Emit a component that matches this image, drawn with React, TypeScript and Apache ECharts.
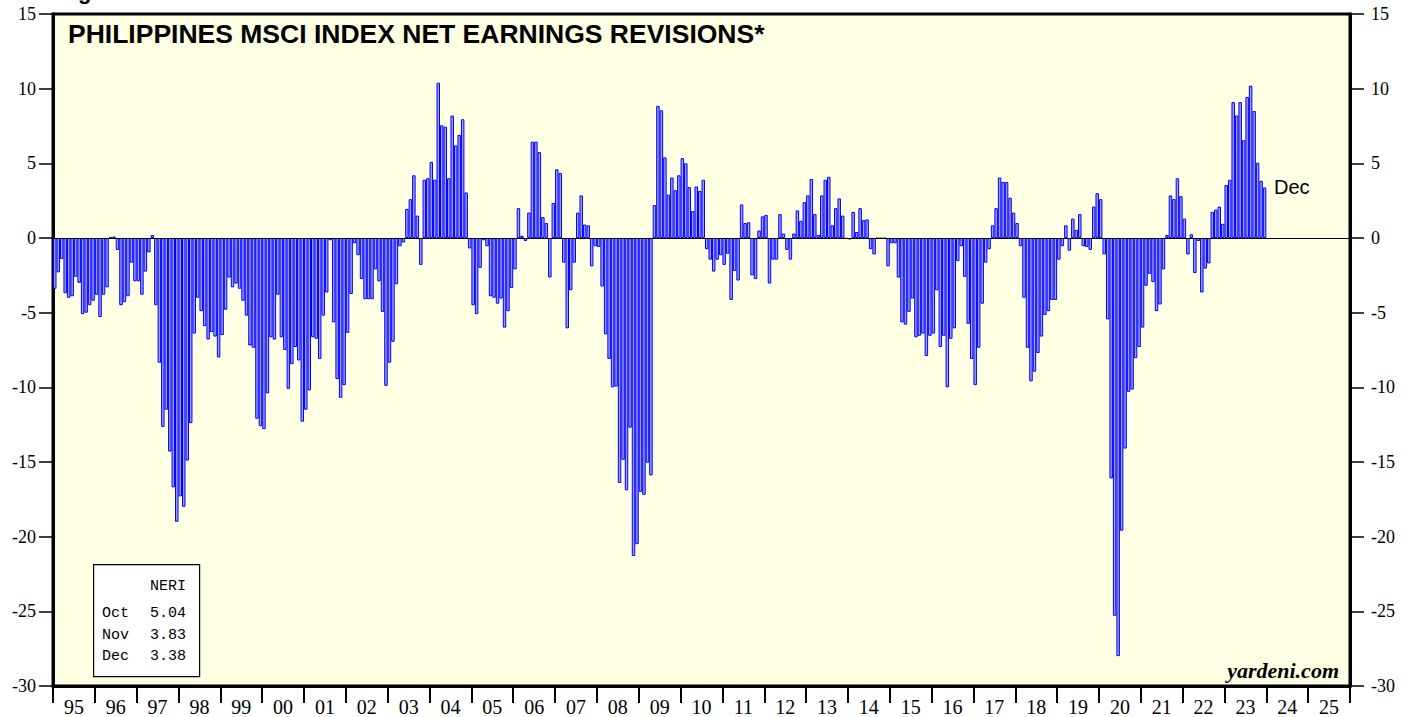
import React, { useEffect, useRef } from "react";
import * as echarts from "echarts";

// Monthly NERI values (% net earnings revisions), Jan..Dec of each year
const v1995 = [-3.4, -2.3, -1.4, -3.7, -4.0, -3.9, -2.6, -3.0, -5.1, -5.0, -4.5, -4.2];
const v1996 = [-3.8, -5.3, -3.8, -3.3, 0.05, 0.1, -0.8, -4.5, -4.3, -3.9, -1.65, -2.9];
const v1997 = [-2.9, -3.8, -2.25, -0.96, 0.2, -4.5, -8.35, -12.65, -11.5, -14.3, -16.7, -19.0];
const v1998 = [-17.3, -18.0, -14.9, -12.4, -6.4, -4.0, -4.9, -5.9, -6.8, -6.3, -6.6, -8.0];
const v1999 = [-6.5, -4.8, -2.65, -3.3, -3.05, -3.4, -4.2, -5.2, -7.2, -7.35, -12.1, -12.6];
const v2000 = [-12.8, -10.4, -6.65, -6.8, -3.8, -6.65, -7.5, -10.1, -8.45, -7.3, -8.2, -12.3];
const v2001 = [-11.5, -10.2, -6.65, -6.75, -8.1, -5.2, -3.65, -0.15, -5.65, -9.45, -10.7, -9.85];
const v2002 = [-6.35, -3.75, -0.35, -1.15, -2.75, -4.1, -4.1, -4.1, -2.1, -2.9, -4.95, -9.9];
const v2003 = [-8.35, -6.95, -3.1, -0.55, -0.3, 1.95, 2.6, 4.2, 1.5, -1.8, 3.9, 4.0];
const v2004 = [5.1, 3.9, 10.4, 7.55, 7.45, 4.0, 8.2, 6.2, 6.9, 7.95, 3.05, -0.7];
const v2005 = [-4.5, -5.1, -2.0, -0.15, -0.55, -3.9, -4.0, -4.4, -4.05, -6.0, -4.9, -3.35];
const v2006 = [-2.1, 2.0, 0.15, -0.2, 1.7, 6.45, 6.45, 5.75, 1.4, 1.0, -2.65, 2.35];
const v2007 = [4.6, 4.35, -1.65, -6.05, -3.5, -1.65, 1.7, 2.85, 0.9, 0.85, -1.9, -0.55];
const v2008 = [-0.6, -3.25, -6.45, -8.1, -10.0, -9.95, -16.4, -14.85, -16.9, -12.7, -21.3, -20.5];
const v2009 = [-17.0, -17.2, -15.05, -15.9, 2.2, 8.85, 8.55, 5.4, 2.9, 4.05, 3.2, 4.2];
const v2010 = [5.35, 5.0, 3.4, 1.8, 3.45, 3.15, 3.9, -0.75, -1.45, -2.25, -1.45, -1.15];
const v2011 = [-1.8, -1.05, -4.15, -2.2, -2.85, 2.25, 1.0, 1.05, -2.5, -2.75, 0.5, 1.45];
const v2012 = [1.55, -3.05, -1.45, -1.45, 1.6, 0.3, -0.8, -1.45, 0.3, 1.85, 1.15, 2.4];
const v2013 = [2.85, 3.95, 1.6, 0.2, 2.85, 3.9, 4.1, 0.85, 2.0, 2.65, 1.5, -0.05];
const v2014 = [-0.1, 1.75, 0.4, 2.0, 1.2, 1.25, -0.75, -1.1, -0.03, -0.03, -0.03, -1.9];
const v2015 = [-0.35, -0.35, -2.65, -5.65, -5.8, -4.95, -4.05, -6.65, -6.55, -6.4, -7.9, -6.55];
const v2016 = [-6.4, -3.5, -7.3, -6.55, -10.0, -6.75, -6.05, -1.55, -0.55, -2.6, -5.75, -8.1];
const v2017 = [-9.85, -7.35, -4.4, -1.65, -0.75, 0.85, 2.0, 4.05, 3.75, 3.75, 2.7, 1.7];
const v2018 = [1.0, -0.55, -4.0, -7.35, -9.6, -8.95, -7.7, -6.6, -5.15, -4.9, -4.15, -4.15];
const v2019 = [-1.45, -0.55, 0.85, -0.85, 1.3, 0.55, 1.6, -0.55, -0.6, -0.8, 2.1, 3.0];
const v2020 = [2.6, -1.1, -5.45, -16.1, -25.3, -28.0, -19.6, -14.1, -10.3, -10.15, -8.05, -7.3];
const v2021 = [-6.0, -3.2, -2.4, -2.95, -4.9, -4.45, -2.1, 0.2, 2.85, 2.6, 4.0, 2.8];
const v2022 = [1.3, -1.1, 0.25, -2.35, -0.2, -3.65, -2.05, -1.7, 1.75, 1.9, 2.1, 0.95];
const v2023 = [3.55, 3.9, 9.1, 8.2, 9.1, 6.55, 9.45, 10.2, 8.5, 5.04, 3.83, 3.38];

const firstYear = 1995;
const lastAxisYear = 2025;
const yearLabels = ["95", "96", "97", "98", "99", "00", "01", "02", "03", "04", "05", "06", "07", "08", "09", "10", "11", "12", "13", "14", "15", "16", "17", "18", "19", "20", "21", "22", "23", "24", "25"];
const legendMonths = ["Oct", "Nov", "Dec"];
const legendValues = ["5.04", "3.83", "3.38"];

const neri = [
  ...v1995, ...v1996, ...v1997, ...v1998, ...v1999, ...v2000, ...v2001, ...v2002,
  ...v2003, ...v2004, ...v2005, ...v2006, ...v2007, ...v2008, ...v2009, ...v2010,
  ...v2011, ...v2012, ...v2013, ...v2014, ...v2015, ...v2016, ...v2017, ...v2018,
  ...v2019, ...v2020, ...v2021, ...v2022, ...v2023,
];

const months: string[] = [];
for (let y = firstYear; y <= lastAxisYear; y++) {
  for (let m = 1; m <= 12; m++) months.push(`${y}-${m}`);
}

const SERIF = "'Liberation Serif', 'Times New Roman', serif";
const SANS = "'Liberation Sans', Arial, sans-serif";
const MONO = "'Liberation Mono', 'Courier New', monospace";

export default function App() {
  const ref = useRef<HTMLDivElement>(null);
  useEffect(() => {
    if (!ref.current) return;
    const chart = echarts.init(ref.current, null, { renderer: "svg" });
    const gridLeft = 53, gridTop = 14, gridW = 1297, gridH = 672;
    const yAxisCommon = {
      type: "value",
      min: -30,
      max: 15,
      interval: 5,
      splitLine: { show: false },
      axisLine: { show: true, lineStyle: { color: "#000", width: 3 } },
      axisTick: { show: true, length: 14, lineStyle: { color: "#000", width: 1.5 } },
    };
    const legendText: any[] = [
      { type: "text", left: 150, top: 579, style: { text: "NERI", font: `15px ${MONO}`, fill: "#000" } },
    ];
    legendMonths.forEach((m, i) => {
      legendText.push({ type: "text", left: 102, top: 606 + i * 21.5, style: { text: m, font: `15px ${MONO}`, fill: "#000" } });
      legendText.push({ type: "text", left: 150, top: 606 + i * 21.5, style: { text: legendValues[i], font: `15px ${MONO}`, fill: "#000" } });
    });
    chart.setOption({
      animation: false,
      backgroundColor: "#fff",
      grid: {
        left: gridLeft, top: gridTop, width: gridW, height: gridH,
        show: true, backgroundColor: "#FFFFE4", borderColor: "#000", borderWidth: 3,
      },
      xAxis: [
        {
          type: "category", data: months, show: false, boundaryGap: true,
          axisLine: { show: false, onZero: false },
          axisTick: { show: false },
          axisLabel: { show: false },
        },
        {
          type: "category", data: yearLabels, position: "bottom", boundaryGap: true,
          axisLine: { show: true, onZero: false, lineStyle: { color: "#000", width: 3 } },
          axisTick: { show: true, length: 17, interval: 0, lineStyle: { color: "#000", width: 2 } },
          axisLabel: { interval: 0, fontFamily: SERIF, fontSize: 20, color: "#000", margin: 11 },
        },
      ],
      yAxis: [
        {
          ...yAxisCommon, position: "left",
          axisLabel: { fontFamily: SERIF, fontSize: 18, color: "#000", margin: 17 },
        },
        {
          ...yAxisCommon, position: "right",
          axisLabel: { fontFamily: SERIF, fontSize: 18, color: "#000", margin: 21 },
        },
      ],
      series: [
        {
          type: "bar",
          xAxisIndex: 0,
          yAxisIndex: 0,
          data: neri,
          barCategoryGap: "0%",
          itemStyle: { color: "#9C9CFF", borderColor: "#0000FF", borderWidth: 1 },
          markLine: {
            silent: true,
            symbol: ["none", "none"],
            label: { show: false },
            lineStyle: { color: "#000", width: 1, type: "solid" },
            data: [{ yAxis: 0 }],
          },
        },
      ],
      graphic: [
        { type: "text", left: 78, top: -20, style: { text: "g", font: `bold 22px ${SANS}`, fill: "#000" } },
        { type: "text", left: 68, top: 20, style: { text: "PHILIPPINES MSCI INDEX NET EARNINGS REVISIONS*", font: `bold 26.5px ${SANS}`, fill: "#000" } },
        { type: "text", left: 1274, top: 177, style: { text: "Dec", font: `20px ${SANS}`, fill: "#000" } },
        { type: "text", right: 1416 - 1339, top: 659, style: { text: "yardeni.com", font: `italic bold 22px ${SERIF}`, fill: "#000" } },
        { type: "rect", left: 93, top: 564, shape: { width: 106, height: 112 }, style: { fill: "#fff", stroke: "#000", lineWidth: 1.2 } },
        ...legendText,
      ],
    });
    return () => chart.dispose();
  }, []);
  return (
    <div
      ref={ref}
      style={{ position: "absolute", left: 0, top: 0, width: 1416, height: 717 }}
    />
  );
}
